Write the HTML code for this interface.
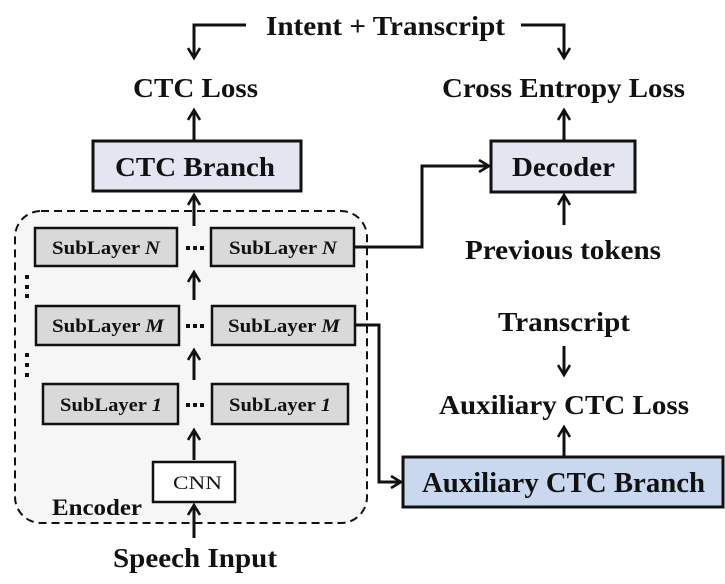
<!DOCTYPE html>
<html><head><meta charset="utf-8"><style>
html,body{margin:0;padding:0;background:#fff;}
svg{display:block;}
text{font-family:"Liberation Serif",serif;font-weight:bold;fill:#111;}
</style></head><body>
<svg width="725" height="584" viewBox="0 0 725 584" xmlns="http://www.w3.org/2000/svg">
<defs>
<marker id="a" markerWidth="14" markerHeight="14" refX="11" refY="7" orient="auto" markerUnits="userSpaceOnUse">
<path d="M1,1 L11,7 L1,13" fill="none" stroke="#111" stroke-width="2.6"/>
</marker>
</defs>
<g stroke="#111" stroke-width="3" fill="none">
<polyline points="246,25 194,25 194,58" marker-end="url(#a)"/>
<polyline points="521,25 564,25 564,58" marker-end="url(#a)"/>
<line x1="194" y1="140" x2="194" y2="110" marker-end="url(#a)"/>
<line x1="564" y1="140" x2="564" y2="110" marker-end="url(#a)"/>
<line x1="564" y1="225" x2="564" y2="195" marker-end="url(#a)"/>
<line x1="564" y1="346" x2="564" y2="375" marker-end="url(#a)"/>
<line x1="564" y1="456" x2="564" y2="427" marker-end="url(#a)"/>
</g>
<rect x="15" y="211" width="352" height="312" rx="26" fill="#f6f6f6" stroke="#111" stroke-width="2" stroke-dasharray="8,5"/>
<g stroke="#111" stroke-width="3" fill="none">
<line x1="194" y1="226" x2="194" y2="195" marker-end="url(#a)"/>
<line x1="194" y1="300" x2="194" y2="272" marker-end="url(#a)"/>
<line x1="194" y1="380" x2="194" y2="350" marker-end="url(#a)"/>
<line x1="194" y1="460" x2="194" y2="430" marker-end="url(#a)"/>
<line x1="194" y1="538" x2="194" y2="505" marker-end="url(#a)"/>
<polyline points="354,247 422,247 422,166 489,166" marker-end="url(#a)"/>
<polyline points="355,325 379,325 379,482 401,482" marker-end="url(#a)"/>
</g>
<g fill="#d9d9d9" stroke="#111" stroke-width="2.5">
<rect x="35" y="228" width="142" height="38"/>
<rect x="211" y="228" width="143" height="38"/>
<rect x="36" y="306" width="143" height="39"/>
<rect x="212" y="306" width="143" height="39"/>
<rect x="43" y="384" width="135" height="40"/>
<rect x="212" y="384" width="136" height="40"/>
</g>
<rect x="153" y="462" width="82" height="40" fill="#fff" stroke="#111" stroke-width="2.5"/>
<g fill="#111">
<rect x="186" y="246" width="4" height="4"/><rect x="193" y="246" width="4" height="4"/><rect x="200" y="246" width="4" height="4"/>
<rect x="186" y="324" width="4" height="4"/><rect x="193" y="324" width="4" height="4"/><rect x="200" y="324" width="4" height="4"/>
<rect x="186" y="403" width="4" height="4"/><rect x="193" y="403" width="4" height="4"/><rect x="200" y="403" width="4" height="4"/>
<rect x="25" y="275" width="4" height="4"/><rect x="25" y="285" width="4" height="4"/><rect x="25" y="294" width="4" height="4"/>
<rect x="25" y="353" width="4" height="4"/><rect x="25" y="363" width="4" height="4"/><rect x="25" y="373" width="4" height="4"/>
</g>
<rect x="93" y="141" width="208" height="50" fill="#e3e5f1" stroke="#111" stroke-width="3"/>
<rect x="491" y="141" width="144" height="51" fill="#e3e5f1" stroke="#111" stroke-width="3"/>
<rect x="403" y="457" width="320" height="50" fill="#c9d8ee" stroke="#111" stroke-width="3"/>
<g lengthAdjust="spacingAndGlyphs">
<text x="266" y="35" font-size="27" textLength="239" lengthAdjust="spacingAndGlyphs">Intent + Transcript</text>
<text x="133" y="97" font-size="27" textLength="125" lengthAdjust="spacingAndGlyphs">CTC Loss</text>
<text x="442" y="97" font-size="27" textLength="243" lengthAdjust="spacingAndGlyphs">Cross Entropy Loss</text>
<text x="115" y="176" font-size="27" textLength="160" lengthAdjust="spacingAndGlyphs">CTC Branch</text>
<text x="512" y="176" font-size="27" textLength="103" lengthAdjust="spacingAndGlyphs">Decoder</text>
<text x="465" y="259" font-size="27" textLength="196" lengthAdjust="spacingAndGlyphs">Previous tokens</text>
<text x="498" y="331" font-size="27" textLength="132" lengthAdjust="spacingAndGlyphs">Transcript</text>
<text x="439" y="414" font-size="27" textLength="250" lengthAdjust="spacingAndGlyphs">Auxiliary CTC Loss</text>
<text x="422" y="492" font-size="28" textLength="283" lengthAdjust="spacingAndGlyphs">Auxiliary CTC Branch</text>
<text x="113" y="567" font-size="27" textLength="164" lengthAdjust="spacingAndGlyphs">Speech Input</text>
<text x="52" y="254" font-size="19" textLength="108" lengthAdjust="spacingAndGlyphs">SubLayer <tspan font-style="italic">N</tspan></text>
<text x="229" y="254" font-size="19" textLength="108" lengthAdjust="spacingAndGlyphs">SubLayer <tspan font-style="italic">N</tspan></text>
<text x="52" y="332" font-size="19" textLength="112" lengthAdjust="spacingAndGlyphs">SubLayer <tspan font-style="italic">M</tspan></text>
<text x="228" y="332" font-size="19" textLength="112" lengthAdjust="spacingAndGlyphs">SubLayer <tspan font-style="italic">M</tspan></text>
<text x="60" y="411" font-size="19" textLength="102" lengthAdjust="spacingAndGlyphs">SubLayer <tspan font-style="italic">1</tspan></text>
<text x="229" y="411" font-size="19" textLength="102" lengthAdjust="spacingAndGlyphs">SubLayer <tspan font-style="italic">1</tspan></text>
<text x="173" y="489" font-size="19" textLength="49" lengthAdjust="spacingAndGlyphs" style="font-weight:normal">CNN</text>
<text x="52" y="515" font-size="23" textLength="90" lengthAdjust="spacingAndGlyphs">Encoder</text>
</g>
</svg>
</body></html>
